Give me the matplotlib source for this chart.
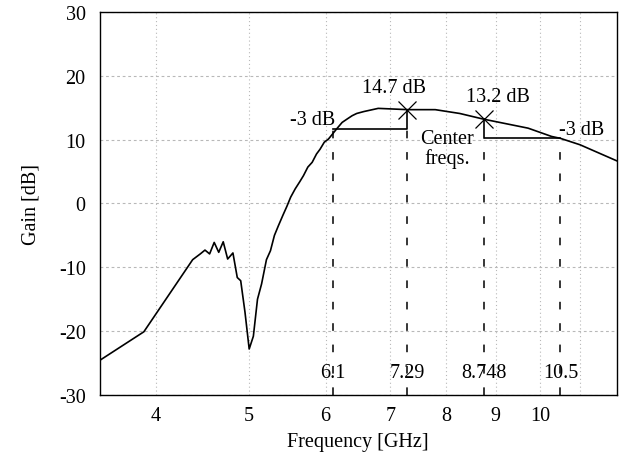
import matplotlib
matplotlib.use("Agg")
import matplotlib.pyplot as plt
from matplotlib.ticker import FixedLocator, NullFormatter, FixedFormatter, NullLocator

plt.rcParams["font.family"] = ["Liberation Serif", "DejaVu Serif"]
plt.rcParams["axes.unicode_minus"] = False
plt.rcParams["font.size"] = 14.5

# Measured amplifier gain
freq_ghz = [3.50, 3.89, 4.37, 4.45, 4.50, 4.55, 4.60, 4.65, 4.70, 4.75, 4.81,
            4.86, 4.90, 4.95, 5.00, 5.05, 5.10, 5.15, 5.21, 5.26, 5.31, 5.36,
            5.42, 5.47, 5.52, 5.58, 5.64, 5.69, 5.75, 5.81, 5.87, 5.92, 5.98,
            6.04, 6.10, 6.16, 6.24, 6.31, 6.39, 6.46, 6.57, 6.80, 7.30, 7.79,
            8.26, 8.748, 9.72, 10.28, 10.50, 11.0, 12.0]
gain_db = [-24.6, -20.1, -8.8, -7.9, -7.3, -7.9, -6.1, -7.65, -6.0, -8.7, -7.75,
           -11.6, -12.1, -17.0, -22.8, -20.8, -15.0, -12.6, -8.8, -7.4, -5.0, -3.5,
           -1.8, -0.45, 1.0, 2.3, 3.4, 4.35, 5.7, 6.45, 7.75, 8.5, 9.6,
           10.1, 10.9, 11.7, 12.7, 13.2, 13.75, 14.1, 14.4, 14.9, 14.7, 14.7,
           14.1, 13.2, 11.8, 10.5, 10.2, 9.2, 6.7]

# Center frequencies with their gain, and the -3 dB edges
center_freqs = [7.29, 8.748]
center_gains = [14.7, 13.2]
edge_freqs = [6.1, 10.5]
marker_labels = ["6.1", "7.29", "8.748", "10.5"]

x_ticks = [4, 5, 6, 7, 8, 9, 10, 11]
x_tick_labels = ["4", "5", "6", "7", "8", "9", "10", ""]
y_ticks = [-30, -20, -10, 0, 10, 20, 30]

fig = plt.figure(figsize=(6.24, 4.64), dpi=100)
ax = fig.add_axes([0.1595, 0.1466, 0.8285, 0.8254])

ax.set_xscale("log")
ax.set_xlim(3.5, 12.0)
ax.set_ylim(-30, 30)

ax.xaxis.set_major_locator(FixedLocator(x_ticks))
ax.xaxis.set_major_formatter(FixedFormatter(x_tick_labels))
ax.xaxis.set_minor_locator(NullLocator())
ax.xaxis.set_minor_formatter(NullFormatter())
ax.set_yticks(y_ticks)
ax.tick_params(axis="both", which="both", length=0)
ax.tick_params(axis="x", pad=8)
ax.tick_params(axis="y", pad=10)

ax.grid(axis="x", color="#b8b8b8", linestyle=(0, (1, 2.5)), linewidth=0.8)
ax.grid(axis="y", color="#b8b8b8", linestyle=(0, (2.5, 2.5)), linewidth=0.8)
ax.set_axisbelow(True)
for s in ax.spines.values():
    s.set_linewidth(1.0)

ax.plot(freq_ghz, gain_db, color="black", linewidth=1.2, zorder=3)

# -3 dB brackets: solid from the peak down to the -3 dB level, across to the edge
lo_c, hi_c = center_freqs
lo_g, hi_g = center_gains
lo_e, hi_e = edge_freqs
ax.plot([lo_e, lo_c, lo_c], [lo_g - 3, lo_g - 3, lo_g], color="black", linewidth=1.2, zorder=3)
ax.plot([hi_e, hi_c, hi_c], [hi_g - 3, hi_g - 3, hi_g], color="black", linewidth=1.2, zorder=3)

# dashed drops to the axis
drop_x = [lo_e, lo_c, hi_c, hi_e]
drop_top = [lo_g - 3, lo_g - 3, hi_g - 3, hi_g - 3]
for fx, top, lab in zip(drop_x, drop_top, marker_labels):
    ax.plot([fx, fx], [-30, top], color="black", linewidth=1.1,
            linestyle=(0, (5, 9)), zorder=2)
    ax.text(fx, -27.2, lab, ha="center", va="baseline", zorder=4)

ax.plot(center_freqs, center_gains, linestyle="none", marker="x",
        markersize=13, markeredgewidth=0.9, color="black", zorder=4)

ax.text(7.06, 17.5, f"{lo_g} dB", ha="center", va="baseline")
ax.text(9.05, 16.0, f"{hi_g} dB", ha="center", va="baseline")
ax.text(6.14, 12.45, "-3 dB", ha="right", va="baseline")
ax.text(10.47, 10.9, "-3 dB", ha="left", va="baseline")
ax.text(8.01, 8.6, "Center\nfreqs.", ha="center", va="center", linespacing=1.05)

ax.set_xlabel("Frequency [GHz]", labelpad=5)
ax.set_ylabel("Gain [dB]", labelpad=13)

fig.savefig("out.png", dpi=100)
